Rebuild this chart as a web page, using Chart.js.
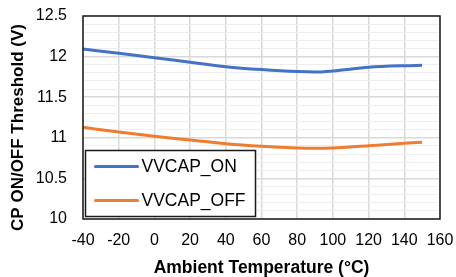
<!DOCTYPE html>
<html>
<head>
<meta charset="utf-8">
<script src="https://cdn.jsdelivr.net/npm/chart.js@4/dist/chart.umd.min.js"></script>
<style>
html,body{margin:0;padding:0;background:#fff;}
canvas{display:block;}
</style>
</head>
<body>
<canvas id="c" width="456" height="277"></canvas>
<script>
const temps = [-40, -20, 0, 20, 40, 60, 80, 90, 100, 120, 140, 150];
const vvcapOn = [12.094, 12.04, 11.987, 11.93, 11.876, 11.84, 11.815, 11.81, 11.823, 11.868, 11.888, 11.893];
const vvcapOff = [11.129, 11.071, 11.018, 10.973, 10.927, 10.895, 10.874, 10.87, 10.874, 10.903, 10.932, 10.945];
const seriesNames = ['VVCAP_ON', 'VVCAP_OFF'];
const seriesColors = ['#4472C4', '#ED7D31'];
const xTitle = 'Ambient Temperature (°C)';
const yTitle = 'CP ON/OFF Threshold (V)';

const FONT = "'Liberation Sans', Arial, sans-serif";
const isMajor = v => Math.abs(v * 2 - Math.round(v * 2)) < 1e-6;

const borderPlugin = {
  id: 'plotBorder',
  afterDatasetsDraw(chart) {
    const a = chart.chartArea, ctx = chart.ctx;
    ctx.save();
    ctx.strokeStyle = '#1a1a1a';
    ctx.lineWidth = 1.5;
    ctx.strokeRect(a.left, a.top, a.right - a.left, a.bottom - a.top);
    ctx.restore();
  }
};

const yTitlePlugin = {
  id: 'yTitle',
  afterDraw(chart) {
    const ctx = chart.ctx;
    ctx.save();
    ctx.translate(18, 127.5);
    ctx.rotate(-Math.PI / 2);
    ctx.font = 'bold 17px ' + FONT;
    ctx.fillStyle = '#000';
    ctx.textAlign = 'center';
    ctx.textBaseline = 'middle';
    ctx.fillText(yTitle, 0, 0);
    ctx.restore();
  }
};

const legendPlugin = {
  id: 'insideLegend',
  afterDraw(chart) {
    const ctx = chart.ctx, a = chart.chartArea;
    const x0 = a.left + 2.5, y0 = 150.5, w = 170, h = 66;
    ctx.save();
    ctx.fillStyle = '#fff';
    ctx.fillRect(x0, y0, w, h);
    ctx.strokeStyle = '#1a1a1a';
    ctx.lineWidth = 1.5;
    ctx.strokeRect(x0, y0, w, h);
    ctx.font = '17.5px ' + FONT;
    ctx.textBaseline = 'middle';
    ctx.textAlign = 'left';
    chart.data.datasets.forEach((ds, i) => {
      const cy = y0 + 16 + i * 34;
      ctx.strokeStyle = ds.borderColor;
      ctx.lineWidth = 3;
      ctx.lineCap = 'round';
      ctx.beginPath();
      ctx.moveTo(x0 + 10, cy);
      ctx.lineTo(x0 + 52, cy);
      ctx.stroke();
      ctx.fillStyle = '#000';
      ctx.fillText(ds.label, x0 + 56, cy + 1);
    });
    ctx.restore();
  }
};

new Chart(document.getElementById('c'), {
  type: 'line',
  data: {
    datasets: [
      { label: seriesNames[0], data: temps.map((t, i) => ({x: t, y: vvcapOn[i]})), borderColor: seriesColors[0], backgroundColor: seriesColors[0], borderWidth: 3, pointRadius: 0, cubicInterpolationMode: 'monotone' },
      { label: seriesNames[1], data: temps.map((t, i) => ({x: t, y: vvcapOff[i]})), borderColor: seriesColors[1], backgroundColor: seriesColors[1], borderWidth: 3, pointRadius: 0, cubicInterpolationMode: 'monotone' }
    ]
  },
  options: {
    responsive: false,
    animation: false,
    devicePixelRatio: 1,
    layout: { padding: { top: 16, right: 16, left: 0, bottom: 0 } },
    plugins: { legend: { display: false }, tooltip: { enabled: false } },
    scales: {
      x: {
        type: 'linear', min: -40, max: 160,
        afterFit(s) { s.height = 58; s.paddingLeft = 0; s.paddingRight = 0; },
        ticks: { stepSize: 20, color: '#000', font: { family: FONT, size: 16 }, padding: 12, maxRotation: 0, autoSkip: false },
        grid: { color: '#d9d9d9', lineWidth: 1.5, drawTicks: false },
        border: { display: false },
        title: { display: true, text: xTitle, color: '#000', font: { family: FONT, size: 17.5, weight: 'bold', lineHeight: 1 }, padding: { top: 0, bottom: 0 } }
      },
      y: {
        type: 'linear', min: 10, max: 12.5,
        afterFit(s) { s.width = 83; s.paddingTop = 0; s.paddingBottom = 0; },
        ticks: {
          stepSize: 0.1, autoSkip: false, color: '#000', font: { family: FONT, size: 16 }, padding: 16,
          callback: v => isMajor(v) ? String(Math.round(v * 10) / 10) : ''
        },
        grid: {
          drawTicks: false,
          color: c => (c.tick && isMajor(c.tick.value)) ? '#d9d9d9' : '#eeeeee',
          lineWidth: c => (c.tick && isMajor(c.tick.value)) ? 1.5 : 1
        },
        border: { display: false },
        title: { display: false }
      }
    }
  },
  plugins: [borderPlugin, yTitlePlugin, legendPlugin]
});
</script>
</body>
</html>
